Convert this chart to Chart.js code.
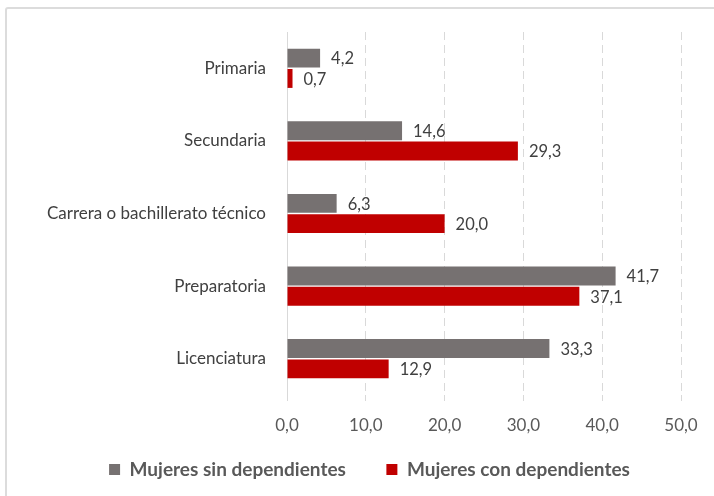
<!DOCTYPE html>
<html>
<head>
<meta charset="utf-8">
<script src="https://cdn.jsdelivr.net/npm/chart.js@4"></script>
<style>
    html, body { margin: 0; padding: 0; background: #fff; }
    #wrap { position: relative; width: 714px; height: 496px; overflow: hidden; }
    #frame { position: absolute; left: 5px; top: 7px; width: 740px; height: 520px; border: 2px solid #dcdcdc; border-radius: 3px; box-sizing: border-box; }
    #chart { position: absolute; left: 0; top: 0; }
</style>
</head>
<body>
<div id="wrap">
    <div id="frame"></div>
    <canvas id="chart" width="714" height="496"></canvas>
</div>
<script>
// categories and series
const categories = ['Primaria', 'Secundaria', 'Carrera o bachillerato técnico', 'Preparatoria', 'Licenciatura'];
const sinDependientes = [4.2, 14.6, 6.3, 41.7, 33.3];
const conDependientes = [0.7, 29.3, 20.0, 37.1, 12.9];
const seriesNames = ['Mujeres sin dependientes', 'Mujeres con dependientes'];
const xTicks = [0, 10, 20, 30, 40, 50];

const GRAY = '#767171';
const RED = '#C00000';
const FONT = 'Lato, "Liberation Sans", sans-serif';

/** @param {number} v */
function fmt(v) {
    return v.toFixed(1).replace('.', ',');
}

// value labels to the right of each bar
const valueLabels = {
    id: 'valueLabels',
    afterDatasetsDraw(chart) {
        const { ctx } = chart;
        ctx.save();
        ctx.font = '16.5px ' + FONT;
        ctx.fillStyle = '#404040';
        ctx.textAlign = 'left';
        ctx.textBaseline = 'middle';
        chart.data.datasets.forEach((ds, i) => {
            chart.getDatasetMeta(i).data.forEach((bar, j) => {
                ctx.fillText(fmt(ds.data[j]), bar.x + 11, bar.y + 1);
            });
        });
        ctx.restore();
    },
};

// the reference legend sits a little right of the canvas centre
const legendShift = {
    id: 'legendShift',
    afterLayout(chart) {
        if (chart.legend) {
            chart.legend.left += 24;
            chart.legend.right += 24;
        }
    },
};

new Chart(document.getElementById('chart'), {
    type: 'bar',
    data: {
        labels: categories,
        datasets: [
            { label: seriesNames[0], data: sinDependientes, backgroundColor: GRAY },
            { label: seriesNames[1], data: conDependientes, backgroundColor: RED },
        ],
    },
    options: {
        indexAxis: 'y',
        responsive: false,
        animation: false,
        categoryPercentage: 0.56,
        barPercentage: 0.93,
        layout: { padding: { left: 10, right: 33, top: 32, bottom: 7 } },
        scales: {
            x: {
                min: 0,
                max: 50,
                afterBuildTicks: (scale) => {
                    scale.ticks = xTicks.map((v) => ({ value: v }));
                },
                afterFit: (scale) => {
                    scale.height = 53;
                },
                ticks: {
                    callback: (v) => fmt(v),
                    color: '#595959',
                    font: { family: FONT, size: 17 },
                    padding: 14,
                },
                grid: {
                    color: '#d9d9d9',
                    lineWidth: 1,
                    tickLength: 6,
                    drawTicks: true,
                },
                border: { display: false, dash: [8, 5] },
            },
            y: {
                afterFit: (scale) => {
                    scale.width = 277;
                },
                ticks: {
                    color: '#404040',
                    font: { family: FONT, size: 17 },
                    padding: 13,
                },
                grid: { display: false },
                border: { display: true, color: '#d9d9d9', width: 1 },
            },
        },
        plugins: {
            legend: {
                position: 'bottom',
                labels: {
                    boxWidth: 11,
                    boxHeight: 11,
                    padding: 12,
                    color: '#595959',
                    font: { family: FONT, size: 19, weight: 'bold' },
                    // widen the gap between the two entries without making the legend taller
                    generateLabels: (chart) => {
                        const items = Chart.defaults.plugins.legend.labels.generateLabels(chart);
                        items[0].text += '\u2002\u2002\u2002';
                        return items;
                    },
                },
            },
            tooltip: { enabled: false },
        },
    },
    plugins: [valueLabels, legendShift],
});
</script>
</body>
</html>
